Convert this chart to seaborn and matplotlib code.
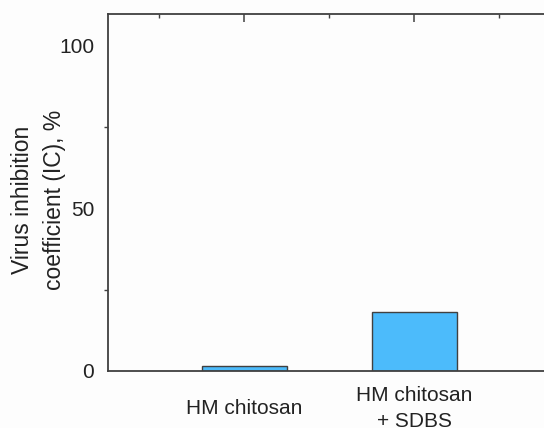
import matplotlib
matplotlib.use("Agg")
import matplotlib.pyplot as plt
import seaborn as sns
import pandas as pd
from matplotlib.ticker import FixedLocator

categories = ["HM chitosan", "HM chitosan\n+ SDBS"]
values = [1.6, 18.2]

sns.set_theme(style="white")
plt.rcParams['font.family'] = ['Liberation Sans', 'DejaVu Sans']

df = pd.DataFrame({"cat": categories, "val": values})

W, H = 544, 428
fig = plt.figure(figsize=(W / 100, H / 100), dpi=100)
fig.patch.set_facecolor("#fdfdfd")
# axes: left 108px, top 14.5px, bottom 371px, right ~550px (beyond the crop)
left, right, top, bottom = 108, 550.5, 14.5, 371
ax = fig.add_axes([left / W, 1 - bottom / H, (right - left) / W, (bottom - top) / H])
ax.set_facecolor("#fdfdfd")

sns.barplot(data=df, x="cat", y="val", ax=ax, color="#4cbbfb", width=0.5,
            edgecolor="#404040", linewidth=1.0, saturation=1)

ax.set_xlim(-0.8, 1.8)
ax.set_ylim(0, 109.5)
ax.set_xlabel("")
ax.set_ylabel("Virus inhibition\ncoefficient (IC), %", fontsize=16.5, linespacing=1.5,
              color="#222222")
ax.yaxis.label.set_verticalalignment("center")
ax.yaxis.set_label_coords((39 - left) / (right - left), (bottom - 200) / (bottom - top))

for s in ax.spines.values():
    s.set_color("#404040")
    s.set_linewidth(1.3)

ax.yaxis.set_major_locator(FixedLocator([0, 50, 100]))
ax.yaxis.set_minor_locator(FixedLocator([25, 75]))
ax.tick_params(axis="y", which="major", direction="out", length=7, width=1.1,
               color="#404040", labelsize=15, labelcolor="#222222", pad=3)
ax.tick_params(axis="y", which="minor", direction="out", length=3, width=1.0,
               color="#404040", left=True)

ax.xaxis.set_minor_locator(FixedLocator([-0.5, 0.5, 1.5]))
ax.tick_params(axis="x", which="major", bottom=False, top=True, direction="in",
               length=6, width=1.1, color="#404040", labelsize=15,
               labelcolor="#222222", pad=27)
ax.tick_params(axis="x", which="minor", bottom=False, top=True, direction="in",
               length=3, width=1.0, color="#404040")
for lbl in ax.get_xticklabels():
    lbl.set_verticalalignment("center")
    lbl.set_horizontalalignment("center")
    lbl.set_multialignment("center")
    lbl.set_linespacing(1.5)

fig.savefig("out.png", dpi=100, facecolor=fig.get_facecolor())
